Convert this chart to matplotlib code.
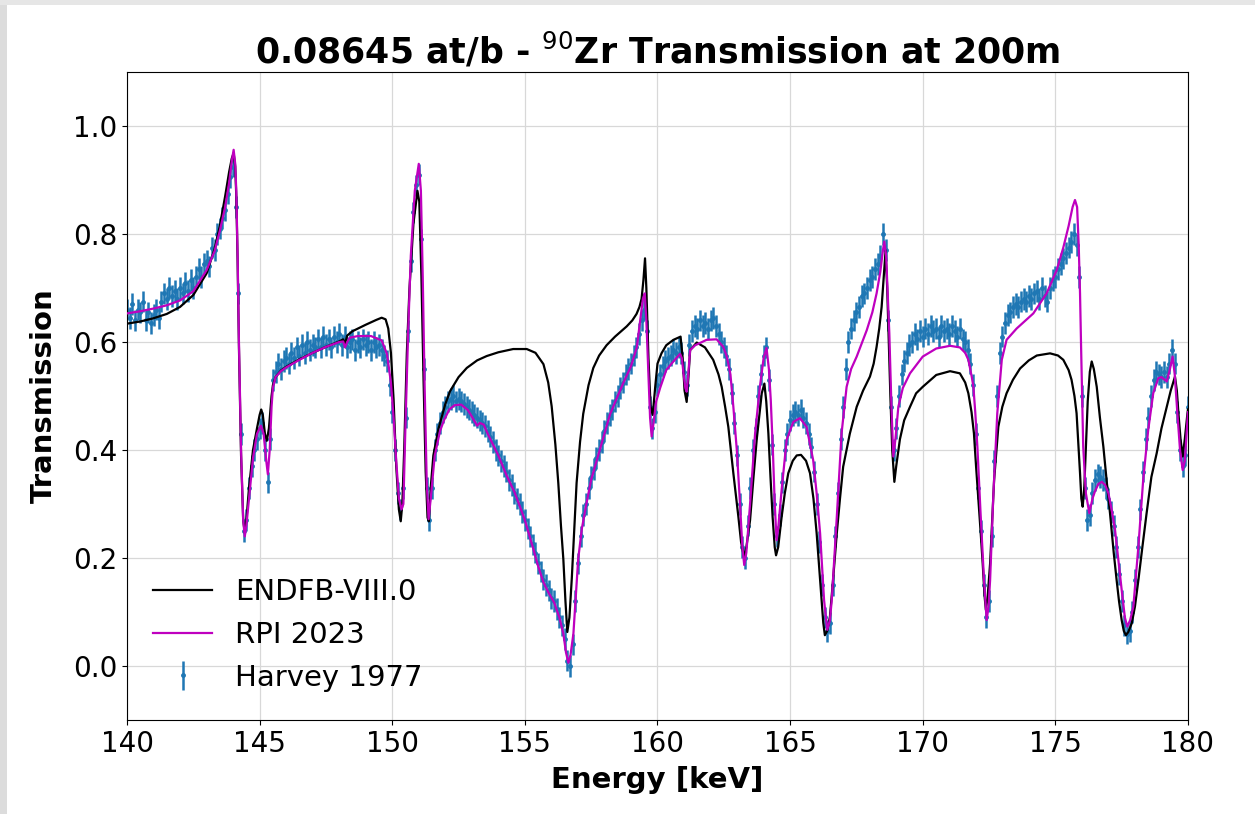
import numpy as np
import matplotlib
matplotlib.use('Agg')
import matplotlib.pyplot as plt
from matplotlib.patches import Rectangle

# ENDF/B-VIII.0 curve (energy keV, transmission)
endf_e = [140.0, 140.5, 141.0, 141.5, 142.0, 142.5, 143.0, 143.3, 143.5, 143.7, 143.85, 143.95,
          144.02, 144.08, 144.12, 144.17, 144.22, 144.3, 144.38, 144.44, 144.5, 144.6, 144.75, 144.9,
          145.0, 145.06, 145.12, 145.2, 145.27, 145.35, 145.45, 145.5, 145.6, 145.8, 146.0, 146.5,
          147.0, 147.5, 148.0, 148.15, 148.22, 148.3, 148.5, 149.0, 149.4, 149.6, 149.75, 149.85,
          149.95, 150.05, 150.15, 150.25, 150.32, 150.38, 150.45, 150.55, 150.65, 150.8, 150.95, 151.02,
          151.1, 151.18, 151.26, 151.33, 151.38, 151.45, 151.55, 151.74, 152.0, 152.18, 152.5, 152.81,
          153.2, 153.56, 154.0, 154.56, 155.07, 155.4, 155.7, 155.88, 156.01, 156.15, 156.26, 156.36,
          156.45, 156.53, 156.6, 156.68, 156.77, 156.86, 156.95, 157.08, 157.2, 157.4, 157.58, 157.8,
          158.08, 158.4, 158.84, 159.05, 159.21, 159.32, 159.4, 159.47, 159.53, 159.58, 159.66, 159.74,
          159.82, 159.92, 160.0, 160.15, 160.33, 160.6, 160.87, 160.95, 161.02, 161.1, 161.16, 161.23,
          161.48, 161.79, 162.1, 162.3, 162.42, 162.55, 162.67, 162.86, 163.05, 163.15, 163.26, 163.35,
          163.49, 163.62, 163.74, 163.93, 164.03, 164.1, 164.18, 164.26, 164.34, 164.42, 164.47, 164.55,
          164.68, 164.8, 164.93, 165.1, 165.25, 165.41, 165.6, 165.75, 165.88, 166.0, 166.1, 166.19,
          166.25, 166.31, 166.4, 166.5, 166.62, 166.76, 166.88, 167.0, 167.25, 167.51, 167.75, 168.01,
          168.15, 168.26, 168.36, 168.45, 168.53, 168.6, 168.66, 168.72, 168.78, 168.85, 168.93, 169.0,
          169.14, 169.3, 169.52, 169.75, 170.0, 170.51, 171.03, 171.4, 171.6, 171.72, 171.84, 171.93,
          172.01, 172.09, 172.18, 172.26, 172.33, 172.38, 172.45, 172.54, 172.62, 172.69, 172.85, 173.0,
          173.16, 173.4, 173.67, 174.0, 174.3, 174.8, 175.1, 175.3, 175.5, 175.61, 175.72, 175.8,
          175.88, 175.93, 175.98, 176.03, 176.09, 176.15, 176.22, 176.3, 176.37, 176.45, 176.56, 176.68,
          176.81, 176.94, 177.06, 177.2, 177.31, 177.4, 177.5, 177.58, 177.66, 177.75, 177.88, 178.0,
          178.13, 178.28, 178.44, 178.62, 178.82, 179.0, 179.2, 179.35, 179.51, 179.58, 179.64, 179.72,
          179.8, 179.88, 179.98, 180.0]
endf_t = [0.634, 0.638, 0.644, 0.652, 0.665, 0.687, 0.727, 0.772, 0.815, 0.87, 0.915, 0.94,
          0.95, 0.925, 0.87, 0.75, 0.59, 0.39, 0.27, 0.247, 0.27, 0.33, 0.40, 0.44,
          0.465, 0.475, 0.465, 0.43, 0.417, 0.44, 0.5, 0.52, 0.535, 0.547, 0.554, 0.568,
          0.58, 0.591, 0.601, 0.605, 0.596, 0.612, 0.62, 0.632, 0.641, 0.645, 0.642, 0.625,
          0.58, 0.494, 0.37, 0.29, 0.268, 0.30, 0.40, 0.58, 0.70, 0.82, 0.88, 0.86,
          0.72, 0.53, 0.36, 0.275, 0.268, 0.33, 0.39, 0.439, 0.485, 0.509, 0.535, 0.552,
          0.566, 0.574, 0.581, 0.587, 0.587, 0.58, 0.559, 0.525, 0.481, 0.41, 0.339, 0.26,
          0.198, 0.12, 0.063, 0.09, 0.163, 0.25, 0.339, 0.415, 0.467, 0.52, 0.552, 0.575,
          0.594, 0.61, 0.629, 0.64, 0.652, 0.665, 0.68, 0.715, 0.755, 0.70, 0.57, 0.48,
          0.465, 0.52, 0.56, 0.579, 0.594, 0.604, 0.61, 0.57, 0.51, 0.489, 0.53, 0.585,
          0.599, 0.59, 0.567, 0.54, 0.517, 0.48, 0.443, 0.357, 0.276, 0.23, 0.202, 0.22,
          0.27, 0.35, 0.419, 0.505, 0.523, 0.49, 0.431, 0.35, 0.276, 0.22, 0.205, 0.22,
          0.276, 0.32, 0.357, 0.38, 0.39, 0.391, 0.38, 0.357, 0.31, 0.246, 0.18, 0.122,
          0.08, 0.057, 0.065, 0.091, 0.16, 0.246, 0.31, 0.369, 0.43, 0.48, 0.51, 0.536,
          0.56, 0.591, 0.625, 0.665, 0.72, 0.77, 0.70, 0.60, 0.50, 0.40, 0.341, 0.37,
          0.42, 0.455, 0.48, 0.505, 0.517, 0.539, 0.546, 0.542, 0.525, 0.505, 0.47, 0.431,
          0.37, 0.314, 0.25, 0.19, 0.13, 0.104, 0.13, 0.19, 0.27, 0.344, 0.443, 0.48,
          0.505, 0.53, 0.551, 0.566, 0.575, 0.579, 0.575, 0.567, 0.548, 0.53, 0.5, 0.468,
          0.40, 0.357, 0.31, 0.295, 0.33, 0.406, 0.49, 0.545, 0.564, 0.55, 0.517, 0.46,
          0.406, 0.34, 0.283, 0.21, 0.159, 0.12, 0.085, 0.065, 0.057, 0.063, 0.079, 0.11,
          0.159, 0.22, 0.283, 0.35, 0.394, 0.44, 0.48, 0.51, 0.536, 0.51, 0.468, 0.42,
          0.388, 0.42, 0.468, 0.475]

# RPI 2023 curve
rpi_e = [140.0, 140.5, 141.0, 141.5, 142.0, 142.5, 143.0, 143.3, 143.5, 143.7, 143.85, 143.95,
         144.02, 144.08, 144.12, 144.17, 144.22, 144.3, 144.38, 144.44, 144.5, 144.6, 144.75, 144.9,
         145.05, 145.15, 145.25, 145.31, 145.38, 145.45, 145.5, 145.6, 145.8, 146.0, 146.5, 147.0,
         147.5, 148.0, 148.15, 148.22, 148.3, 148.4, 148.7, 149.2, 149.6, 149.8, 149.95, 150.05,
         150.15, 150.25, 150.35, 150.42, 150.5, 150.6, 150.7, 150.85, 151.0, 151.08, 151.15, 151.22,
         151.3, 151.37, 151.45, 151.6, 151.8, 151.95, 152.15, 152.35, 152.6, 152.85, 153.0, 153.2,
         153.3, 153.45, 153.6, 153.8, 154.0, 154.3, 154.6, 154.8, 155.0, 155.3, 155.5, 155.7,
         155.9, 156.1, 156.3, 156.45, 156.55, 156.64, 156.72, 156.83, 156.92, 157.01, 157.15, 157.33,
         157.5, 157.71, 158.0, 158.21, 158.5, 158.71, 159.0, 159.22, 159.35, 159.45, 159.52, 159.58,
         159.65, 159.72, 159.78, 159.85, 159.95, 160.1, 160.33, 160.6, 160.85, 160.92, 160.98, 161.05,
         161.1, 161.16, 161.23, 161.42, 161.85, 162.23, 162.48, 162.6, 162.67, 162.75, 162.86, 162.99,
         163.1, 163.2, 163.27, 163.35, 163.49, 163.68, 163.86, 164.0, 164.11, 164.2, 164.27, 164.35,
         164.42, 164.49, 164.56, 164.68, 164.87, 165.12, 165.37, 165.62, 165.87, 166.0, 166.13, 166.28,
         166.4, 166.5, 166.57, 166.76, 166.94, 167.13, 167.3, 167.51, 167.89, 168.1, 168.26, 168.4,
         168.5, 168.55, 168.62, 168.68, 168.74, 168.82, 168.89, 168.97, 169.08, 169.25, 169.52, 170.0,
         170.51, 171.03, 171.4, 171.6, 171.72, 171.85, 171.91, 171.98, 172.06, 172.18, 172.31, 172.41,
         172.48, 172.54, 172.66, 172.81, 172.98, 173.16, 173.54, 174.17, 174.67, 175.05, 175.3, 175.5,
         175.65, 175.74, 175.82, 175.88, 175.93, 175.97, 176.05, 176.15, 176.28, 176.4, 176.49, 176.62,
         176.75, 176.88, 177.0, 177.12, 177.25, 177.5, 177.62, 177.71, 177.82, 177.94, 178.13, 178.31,
         178.5, 178.69, 178.88, 179.0, 179.2, 179.32, 179.42, 179.5, 179.6, 179.7, 179.8, 179.88,
         179.95, 180.0]
rpi_t = [0.653, 0.657, 0.662, 0.668, 0.677, 0.694, 0.733, 0.768, 0.806, 0.85, 0.895, 0.935,
         0.956, 0.93, 0.88, 0.76, 0.60, 0.40, 0.27, 0.24, 0.26, 0.31, 0.385, 0.43,
         0.445, 0.43, 0.38, 0.355, 0.40, 0.48, 0.515, 0.535, 0.546, 0.553, 0.567, 0.58,
         0.591, 0.6, 0.601, 0.59, 0.6, 0.608, 0.611, 0.611, 0.603, 0.578, 0.525, 0.46,
         0.38, 0.31, 0.29, 0.30, 0.45, 0.62, 0.76, 0.88, 0.93, 0.88, 0.72, 0.52,
         0.34, 0.272, 0.31, 0.389, 0.435, 0.455, 0.475, 0.483, 0.484, 0.474, 0.462, 0.445,
         0.45, 0.447, 0.43, 0.41, 0.39, 0.354, 0.323, 0.297, 0.27, 0.22, 0.185, 0.155,
         0.135, 0.118, 0.09, 0.06, 0.025, 0.006, 0.02, 0.06, 0.13, 0.198, 0.255, 0.303,
         0.345, 0.381, 0.43, 0.466, 0.5, 0.524, 0.555, 0.59, 0.64, 0.68, 0.69, 0.64,
         0.55, 0.46, 0.425, 0.45, 0.49, 0.515, 0.548, 0.564, 0.578, 0.57, 0.542, 0.515,
         0.508, 0.54, 0.585, 0.594, 0.604, 0.605, 0.591, 0.575, 0.56, 0.54, 0.48, 0.40,
         0.31, 0.22, 0.187, 0.21, 0.30, 0.431, 0.517, 0.57, 0.589, 0.55, 0.493, 0.40,
         0.30, 0.233, 0.26, 0.326, 0.419, 0.452, 0.459, 0.443, 0.381, 0.32, 0.246, 0.122,
         0.067, 0.085, 0.122, 0.276, 0.431, 0.517, 0.55, 0.573, 0.622, 0.655, 0.69, 0.73,
         0.77, 0.786, 0.76, 0.69, 0.616, 0.48, 0.388, 0.42, 0.48, 0.515, 0.542, 0.573,
         0.588, 0.593, 0.59, 0.58, 0.567, 0.535, 0.517, 0.47, 0.406, 0.283, 0.159, 0.085,
         0.11, 0.159, 0.314, 0.468, 0.567, 0.604, 0.625, 0.653, 0.69, 0.733, 0.775, 0.815,
         0.85, 0.863, 0.85, 0.78, 0.69, 0.591, 0.406, 0.32, 0.283, 0.31, 0.323, 0.337,
         0.341, 0.335, 0.32, 0.29, 0.252, 0.141, 0.09, 0.073, 0.085, 0.11, 0.221, 0.344,
         0.437, 0.505, 0.533, 0.535, 0.527, 0.55, 0.573, 0.54, 0.468, 0.40, 0.363, 0.38,
         0.431, 0.47]

# Harvey 1977 measurement, one row per keV, sampled every 0.1 keV from 140.0
harvey_start = 140.0
harvey_step = 0.1
harvey_t = [
    0.66, 0.645, 0.67, 0.64, 0.66, 0.655, 0.675, 0.64, 0.655, 0.635,
    0.65, 0.66, 0.645, 0.675, 0.69, 0.68, 0.70, 0.685, 0.695, 0.68,
    0.70, 0.69, 0.71, 0.695, 0.715, 0.70, 0.72, 0.735, 0.72, 0.745,
    0.75, 0.74, 0.775, 0.77, 0.80, 0.81, 0.83, 0.845, 0.875, 0.905,
    0.925, 0.85, 0.69, 0.43, 0.25, 0.27, 0.33, 0.37, 0.40, 0.42,
    0.44, 0.45, 0.40, 0.34, 0.42, 0.53, 0.545, 0.56, 0.55, 0.565,
    0.57, 0.56, 0.58, 0.57, 0.59, 0.575, 0.595, 0.58, 0.60, 0.585,
    0.595, 0.59, 0.605, 0.59, 0.61, 0.595, 0.605, 0.59, 0.61, 0.60,
    0.615, 0.595, 0.61, 0.59, 0.60, 0.605, 0.585, 0.60, 0.59, 0.605,
    0.595, 0.60, 0.585, 0.60, 0.59, 0.595, 0.585, 0.575, 0.565, 0.52,
    0.47, 0.40, 0.32, 0.29, 0.33, 0.46, 0.62, 0.75, 0.84, 0.89,
    0.91, 0.79, 0.55, 0.33, 0.27, 0.33, 0.40, 0.43, 0.45, 0.47,
    0.48, 0.49, 0.495, 0.50, 0.49, 0.495, 0.49, 0.485, 0.48, 0.475,
    0.47, 0.465, 0.46, 0.455, 0.45, 0.445, 0.435, 0.425, 0.415, 0.40,
    0.39, 0.38, 0.37, 0.36, 0.345, 0.335, 0.32, 0.31, 0.30, 0.285,
    0.27, 0.255, 0.24, 0.225, 0.21, 0.19, 0.175, 0.16, 0.15, 0.14,
    0.125, 0.12, 0.105, 0.09, 0.075, 0.05, 0.01, 0.00, 0.04, 0.12,
    0.19, 0.24, 0.28, 0.30, 0.33, 0.35, 0.365, 0.385, 0.40, 0.415,
    0.435, 0.45, 0.465, 0.475, 0.49, 0.50, 0.515, 0.525, 0.54, 0.55,
    0.56, 0.575, 0.59, 0.615, 0.64, 0.66, 0.62, 0.48, 0.44, 0.47,
    0.52, 0.54, 0.555, 0.565, 0.57, 0.575, 0.585, 0.58, 0.59, 0.58,
    0.545, 0.52, 0.595, 0.62, 0.63, 0.625, 0.64, 0.63, 0.635, 0.625,
    0.64, 0.645, 0.63, 0.615, 0.60, 0.59, 0.575, 0.55, 0.505, 0.45,
    0.39, 0.30, 0.22, 0.20, 0.26, 0.33, 0.40, 0.44, 0.50, 0.54,
    0.575, 0.59, 0.53, 0.41, 0.30, 0.24, 0.28, 0.34, 0.40, 0.43,
    0.455, 0.465, 0.47, 0.465, 0.475, 0.46, 0.45, 0.43, 0.405, 0.36,
    0.30, 0.23, 0.15, 0.09, 0.065, 0.08, 0.15, 0.24, 0.32, 0.42,
    0.48, 0.55, 0.60, 0.625, 0.64, 0.655, 0.665, 0.685, 0.69, 0.70,
    0.715, 0.72, 0.735, 0.745, 0.76, 0.80, 0.77, 0.64, 0.48, 0.40,
    0.44, 0.50, 0.54, 0.565, 0.58, 0.595, 0.60, 0.615, 0.605, 0.62,
    0.61, 0.625, 0.615, 0.63, 0.62, 0.625, 0.61, 0.63, 0.62, 0.625,
    0.615, 0.63, 0.62, 0.61, 0.625, 0.605, 0.60, 0.585, 0.56, 0.52,
    0.43, 0.33, 0.25, 0.15, 0.09, 0.12, 0.24, 0.38, 0.50, 0.58,
    0.61, 0.635, 0.65, 0.655, 0.665, 0.67, 0.665, 0.675, 0.68, 0.675,
    0.685, 0.68, 0.69, 0.695, 0.68, 0.70, 0.685, 0.675, 0.70, 0.715,
    0.72, 0.735, 0.745, 0.755, 0.765, 0.775, 0.785, 0.80, 0.78, 0.72,
    0.50, 0.33, 0.27, 0.28, 0.32, 0.345, 0.355, 0.35, 0.345, 0.33,
    0.31, 0.285, 0.26, 0.22, 0.17, 0.12, 0.075, 0.06, 0.065, 0.10,
    0.16, 0.22, 0.29, 0.36, 0.42, 0.46, 0.50, 0.53, 0.545, 0.54,
    0.535, 0.545, 0.535, 0.56, 0.585, 0.56, 0.47, 0.40, 0.37, 0.39,
    0.48,
]
harvey_err = 0.02

harvey_e = harvey_start + harvey_step * np.arange(len(harvey_t))

fig = plt.figure(figsize=(12.55, 8.14), dpi=100)
# grey frame around the screenshot
fig.patches.append(Rectangle((0, 0), 7 / 1255, 1, transform=fig.transFigure,
                             facecolor='#dcdcdc', edgecolor='none', zorder=-1))
fig.patches.append(Rectangle((0, 1 - 5 / 814), 1, 5 / 814, transform=fig.transFigure,
                             facecolor='#e6e6e6', edgecolor='none', zorder=-1))

ax = fig.add_axes([0.1012, 0.1155, 0.8454, 0.796])

ax.errorbar(harvey_e, harvey_t, yerr=harvey_err, fmt='o', ms=2.5, color='#1f77b4',
            elinewidth=1.8, capsize=0, label='Harvey 1977', zorder=2)
ax.plot(endf_e, endf_t, color='k', lw=1.6, label='ENDFB-VIII.0', zorder=3)
ax.plot(rpi_e, rpi_t, color='m', lw=1.6, label='RPI 2023', zorder=4)

ax.set_xlim(140, 180)
ax.set_ylim(-0.1, 1.1)
ax.set_xticks([140, 145, 150, 155, 160, 165, 170, 175, 180])
ax.set_yticks([0.0, 0.2, 0.4, 0.6, 0.8, 1.0])
ax.tick_params(labelsize=20)
ax.grid(color='#d8d8d8', lw=0.9)
ax.set_axisbelow(True)

ax.set_xlabel('Energy [keV]', fontsize=21, fontweight='bold', labelpad=6)
ax.set_ylabel('Transmission', fontsize=21, fontweight='bold', labelpad=11)
ax.set_title(r'0.08645 at/b - $^{90}$Zr Transmission at 200m', fontsize=25, fontweight='bold')

ax.legend(loc='lower left', frameon=False, fontsize=21, borderaxespad=0.3,
          bbox_to_anchor=(0.0057, 0.0123))

plt.savefig('out.png', dpi=100)
